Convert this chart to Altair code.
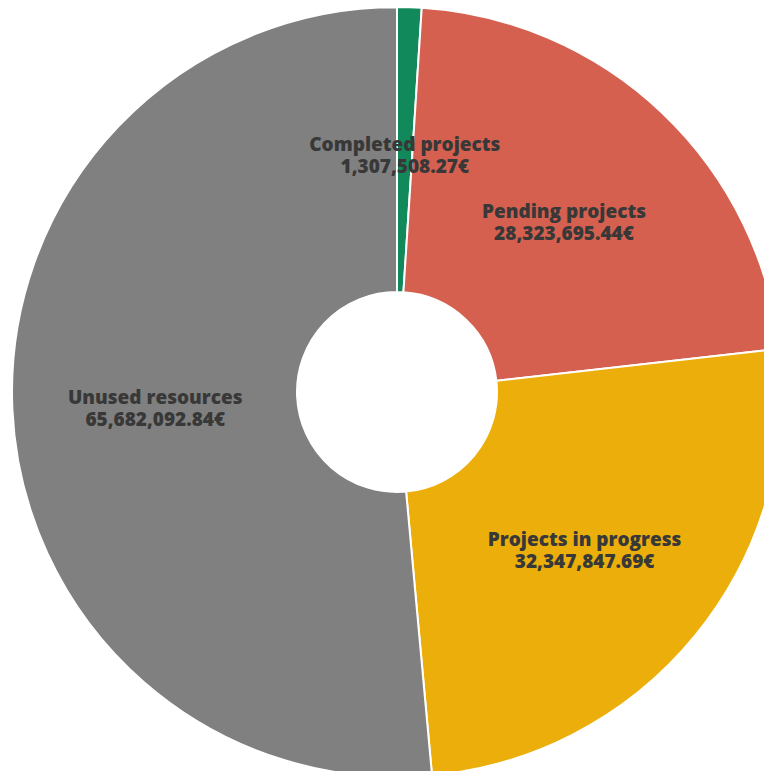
import altair as alt
import pandas as pd

categories = ["Completed projects", "Pending projects", "Projects in progress", "Unused resources"]
values = [1307508.27, 28323695.44, 32347847.69, 65682092.84]
colors = ["#12895a", "#d5604f", "#ecae0a", "#808080"]

df = pd.DataFrame({"category": categories, "value": values, "order": list(range(len(categories)))})
df["label"] = [f"{c}\n{v:,.2f}€" for c, v in zip(categories, values)]

base = alt.Chart(df).encode(
    theta=alt.Theta("value:Q", stack=True),
    order=alt.Order("order:Q"),
    x=alt.value(389),
    y=alt.value(384),
)

arcs = base.mark_arc(outerRadius=385, innerRadius=100, stroke="white", strokeWidth=2).encode(
    color=alt.Color("category:N", scale=alt.Scale(domain=categories, range=colors), legend=None)
)

labels = base.mark_text(
    radius=242, dy=-5, font="Open Sans", fontWeight=800, fontSize=19, color="#383838",
    lineBreak="\n", lineHeight=22, align="center", baseline="middle"
).encode(text="label:N")

chart = (arcs + labels).properties(
    width=756, height=763, padding=0, autosize=alt.AutoSizeParams(type="none")
).configure_view(stroke=None)

chart.save("out.html", embed_options={"renderer": "svg", "actions": False})
